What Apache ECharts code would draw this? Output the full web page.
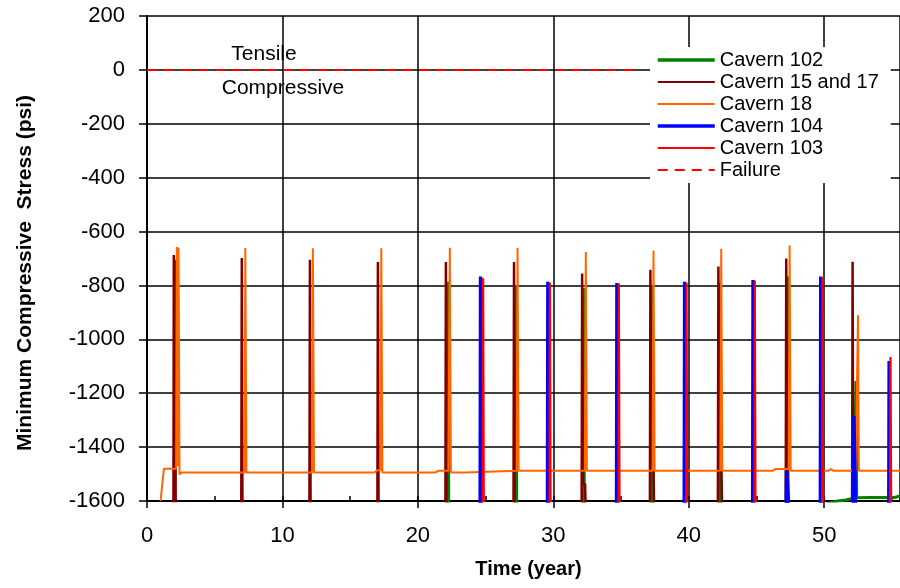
<!DOCTYPE html>
<html><head><meta charset="utf-8">
<script src="https://cdn.jsdelivr.net/npm/echarts@6/dist/echarts.min.js"></script>
<style>html,body{margin:0;padding:0;background:#fff}#c{width:900px;height:588px}</style>
</head><body><div id="c"></div>
<script>
// ---- data (x = year, y = psi) ----
const seriesNames = ['Cavern 102', 'Cavern 15 and 17', 'Cavern 18', 'Cavern 104', 'Cavern 103', 'Failure'];
const xTickLabels = [0, 10, 20, 30, 40, 50];
const yTickLabels = [200, 0, -200, -400, -600, -800, -1000, -1200, -1400, -1600];
const annotations = ['Tensile', 'Compressive'];

const cavern102 = [
  [0,-1650],[22.2,-1650],[22.24,-786],[22.28,-1650],
  [27.22,-1650],[27.26,-805],[27.3,-1650],
  [32.21,-1650],[32.25,-810],[32.29,-1650],
  [37.26,-1650],[37.3,-802],[37.34,-1650],
  [42.26,-1650],[42.3,-791],[42.34,-1650],
  [47.26,-1650],[47.3,-767],[47.34,-1650],
  [51.0,-1600],[51.6,-1596],[52.2,-1590],[52.31,-1589],[52.35,-1155],[52.4,-1588],
  [53.5,-1587],[55.2,-1587],[55.6,-1581]
];
const cavern15and17 = [
  [0,-1650],[1.95,-1650],[1.98,-687],[2.02,-1650],[2.05,-1650],[2.08,-705],[2.12,-1650],
  [6.96,-1650],[7.0,-698],[7.05,-1650],
  [11.99,-1650],[12.03,-705],[12.08,-1650],
  [17.01,-1650],[17.05,-713],[17.1,-1650],
  [22.03,-1650],[22.07,-713],[22.12,-1650],
  [27.06,-1650],[27.1,-713],[27.15,-1650],
  [32.09,-1650],[32.13,-756],[32.2,-1537],[32.35,-1537],[32.4,-1650],
  [37.13,-1650],[37.17,-742],[37.25,-1463],[37.4,-1463],[37.45,-1650],
  [42.15,-1650],[42.19,-730],[42.27,-1489],[42.42,-1489],[42.47,-1650],
  [47.16,-1650],[47.2,-700],[47.28,-1489],[47.4,-1489],[47.45,-1650],
  [52.06,-1650],[52.1,-712],[52.15,-1650],
  [55.6,-1650]
];
const cavern18 = [
  [1.0,-1600],[1.25,-1480],[1.9,-1480],[2.0,-1485],[2.15,-1480],[2.2,-657],[2.3,-1470],[2.33,-660],[2.4,-1502],[2.5,-1494],
  [7.2,-1494],[7.26,-661],[7.34,-1494],
  [12.19,-1494],[12.25,-662],[12.33,-1494],
  [16.8,-1494],[17.0,-1486],[17.24,-1486],[17.3,-662],[17.38,-1494],
  [21.3,-1494],[21.5,-1488],[22.25,-1488],[22.36,-660],[22.44,-1494],
  [22.9,-1494],[23.0,-1489],[23.1,-1494],[23.55,-1494],[23.65,-1488],
  [27.3,-1488],[27.36,-660],[27.44,-1488],
  [32.33,-1488],[32.4,-676],[32.48,-1488],
  [37.33,-1488],[37.4,-670],[37.48,-1488],
  [42.33,-1488],[42.4,-664],[42.48,-1488],
  [46.2,-1488],[46.4,-1481],[47.38,-1481],[47.45,-652],[47.53,-1488],
  [50.3,-1488],[50.5,-1482],[50.7,-1488],
  [52.25,-1488],[52.29,-1330],[52.33,-1488],[52.45,-1488],[52.5,-911],[52.56,-1488],
  [55.6,-1488]
];
const cavern104 = [
  [0,-1650],[24.6,-1650],[24.63,-767],[24.68,-1650],
  [29.57,-1650],[29.6,-786],[29.65,-1650],
  [34.67,-1650],[34.7,-791],[34.75,-1650],
  [39.67,-1650],[39.7,-786],[39.75,-1650],
  [44.72,-1650],[44.75,-780],[44.8,-1650],
  [47.2,-1650],[47.22,-1489],[47.32,-1489],[47.34,-1650],
  [49.72,-1650],[49.75,-767],[49.8,-1650],
  [52.18,-1650],[52.2,-1285],[52.3,-1285],[52.32,-1650],
  [54.77,-1650],[54.8,-1080],[54.85,-1650],
  [55.6,-1650]
];
const cavern103 = [
  [0,-1650],[24.78,-1650],[24.82,-773],[24.87,-1650],
  [29.72,-1650],[29.75,-790],[29.8,-1650],
  [34.81,-1650],[34.84,-793],[34.89,-1650],
  [39.81,-1650],[39.84,-790],[39.89,-1650],
  [44.85,-1650],[44.88,-783],[44.93,-1650],
  [49.85,-1650],[49.88,-770],[49.93,-1650],
  [54.86,-1650],[54.9,-1066],[54.95,-1650],
  [55.6,-1650]
];
const failure = [[0,0],[35.9,0]];

const seriesData = [cavern102, cavern15and17, cavern18, cavern104, cavern103, failure];
const colors = ['#008000', '#800000', '#FF6600', '#0000FF', '#FF0000', '#FF0000'];
const widths = [3, 2.5, 2, 3.5, 2.2, 2];
const legendWidths = [3.5, 2, 2, 3.5, 2, 2];

const FONT = '"Liberation Sans", Arial, sans-serif';
const chart = echarts.init(document.getElementById('c'), null, {renderer: 'canvas'});

const series = seriesData.map((d, i) => ({
  name: seriesNames[i],
  type: 'line',
  data: d,
  symbol: 'none',
  clip: true,
  animation: false,
  lineStyle: {color: colors[i], width: widths[i], type: i === 5 ? [10, 7] : 'solid'},
  itemStyle: {color: colors[i]},
  z: 3 + i
}));

chart.setOption({
  animation: false,
  backgroundColor: '#fff',
  grid: {left: 147, top: 16, right: 0, bottom: 87, containLabel: false},
  xAxis: [{
    type: 'value', min: xTickLabels[0], max: 55.6, interval: 10,
    axisLine: {show: true, onZero: false, lineStyle: {color: '#000', width: 2}},
    axisTick: {show: true, inside: false, length: 7, lineStyle: {color: '#000', width: 1.5}},
    splitLine: {show: true, lineStyle: {color: '#000', width: 1.5}},
    axisLabel: {
      margin: 24, color: '#000', fontFamily: FONT, fontSize: 22, showMaxLabel: false,
      formatter: v => (xTickLabels.indexOf(v) >= 0 ? String(v) : '')
    },
    name: 'Time (year)', nameLocation: 'middle', nameGap: 58,
    nameTextStyle: {color: '#000', fontFamily: FONT, fontSize: 20, fontWeight: 'bold', padding: [0, 0, 0, 10]}
  }, {
    type: 'value', min: 0, max: 55.6, interval: 5, position: 'bottom',
    axisLine: {show: false, onZero: false}, axisLabel: {show: false}, splitLine: {show: false},
    axisTick: {show: true, inside: true, length: 5, lineStyle: {color: '#000', width: 1.5}}
  }],
  yAxis: {
    type: 'value', min: -1600, max: 200, interval: 200,
    axisLine: {show: true, onZero: false, lineStyle: {color: '#000', width: 2}},
    axisTick: {show: true, inside: false, length: 8, lineStyle: {color: '#000', width: 1.5}},
    splitLine: {show: true, lineStyle: {color: '#000', width: 1.5}},
    axisLabel: {margin: 22, color: '#000', fontFamily: FONT, fontSize: 22,
      formatter: v => (yTickLabels.indexOf(v) >= 0 ? String(v) : '')}
  },
  legend: {
    data: seriesNames.map((n, i) => ({name: n, lineStyle: {width: legendWidths[i]}})),
    orient: 'vertical', left: 650, top: 47,
    padding: [3, 12, 3, 6],
    backgroundColor: '#fff',
    itemWidth: 57, itemHeight: 14, itemGap: 2,
    itemStyle: {opacity: 0, borderWidth: 0},
    textStyle: {color: '#000', fontFamily: FONT, fontSize: 20, lineHeight: 20},
    selectedMode: false
  },
  graphic: [
    {type: 'text', x: 264, y: 54, silent: true,
      style: {text: annotations[0], font: '21px ' + FONT, fill: '#000', textAlign: 'center', textVerticalAlign: 'middle'}},
    {type: 'text', x: 283, y: 88, silent: true,
      style: {text: annotations[1], font: '21px ' + FONT, fill: '#000', textAlign: 'center', textVerticalAlign: 'middle'}},
    {type: 'text', x: 25, y: 273, rotation: Math.PI / 2, silent: true,
      style: {text: 'Minimum Compressive  Stress (psi)', font: 'bold 21px ' + FONT, fill: '#000', textAlign: 'center', textVerticalAlign: 'middle'}}
  ],
  series: series
});
</script>
</body></html>
